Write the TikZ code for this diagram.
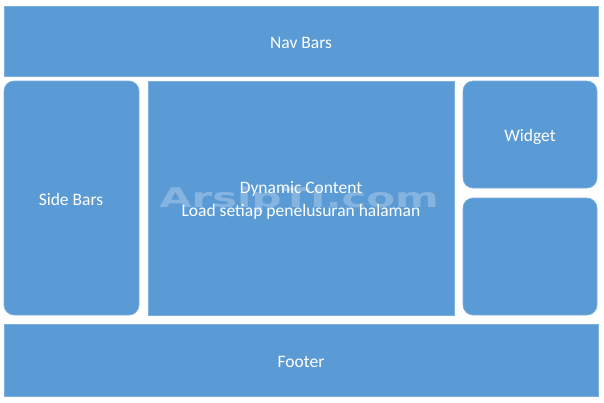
\documentclass[tikz,border=0pt]{standalone}
\usepackage{fontspec}
\setmainfont{Carlito}
\newfontfamily\wmfont{DejaVu Sans}
\definecolor{boxblue}{HTML}{5B9BD5}
\begin{document}
\begin{tikzpicture}[x=1pt,y=-1pt,
  blk/.style={fill=boxblue,draw=boxblue!80!white,line width=0.6pt},
  rblk/.style={blk,rounded corners=10pt},
  lbl/.style={text=white,font=\fontsize{17.5}{23}\selectfont,align=center,inner sep=0pt}]
\useasboundingbox[fill=white] (0,0) rectangle (604,402);
\draw[blk] (4,6) rectangle (598,76);
\draw[rblk] (4,81) rectangle (139,315);
\draw[blk] (148,81) rectangle (454,315);
\draw[rblk] (463,81) rectangle (597,188);
\draw[rblk] (463,198) rectangle (597,315);
\draw[blk] (4,324) rectangle (598,396);
\node[text=white,opacity=0.25,font=\wmfont\bfseries\fontsize{27}{27}\selectfont,xscale=1.55,inner sep=0pt,anchor=base] (wm) at (299,207) {ArsipTI.com};
\node[lbl] (nav) at (301,42.5) {Nav Bars};
\node[lbl] (side) at (71,199.5) {Side Bars};
\node[lbl] (dyn) at (301,200) {Dynamic Content\\Load setiap penelusuran halaman};
\node[lbl] (wid) at (530,136.5) {Widget};
\node[lbl] (foot) at (301,361.5) {Footer};
\end{tikzpicture}
\end{document}
